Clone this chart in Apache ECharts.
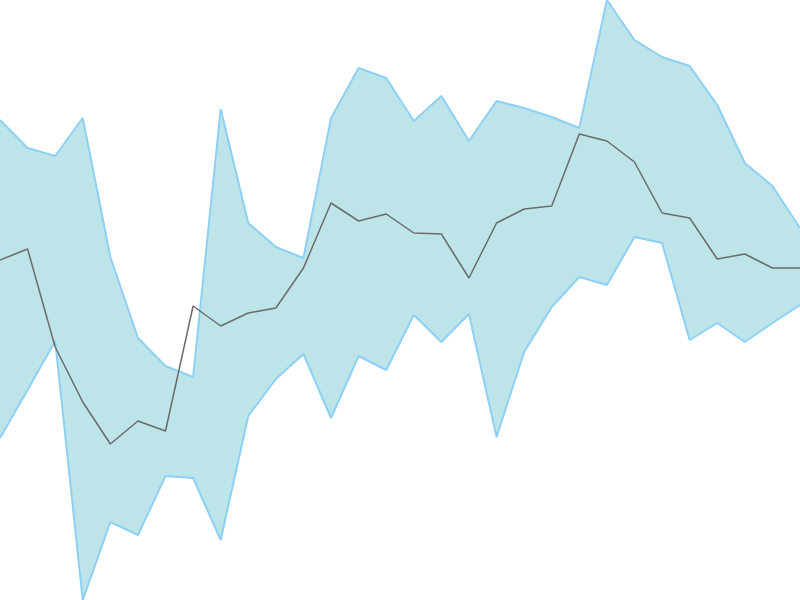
<!DOCTYPE html>
<html>
<head>
<meta charset="utf-8">
<script src="https://cdn.jsdelivr.net/npm/echarts@6/dist/echarts.min.js"></script>
<style>
  html, body { margin: 0; padding: 0; background: #fff; }
  #main { width: 800px; height: 600px; }
</style>
</head>
<body>
<div id="main"></div>
<script>
// 数据
var categories = [];
for (var i = 1; i <= 30; i++) categories.push('P' + i);

var upper = [48.0, 45.2, 44.4, 48.2, 34.3, 26.2, 23.4, 22.3, 49.1, 37.7,
             35.3, 34.2, 48.2, 53.2, 52.2, 47.9, 50.4, 45.9, 49.9, 49.2,
             48.3, 47.2, 60.0, 56.0, 54.3, 53.4, 49.5, 43.7, 41.4, 37.2];
var lower = [16.2, 21.0, 25.9, 0.0, 7.8, 6.5, 12.4, 12.2, 6.0, 18.4,
             22.1, 24.6, 18.2, 24.4, 23.0, 28.5, 25.8, 28.6, 16.3, 24.8,
             29.3, 32.3, 31.5, 36.3, 35.7, 26.0, 27.7, 25.8, 27.7, 29.5];
var middle = [34.0, 35.1, 25.3, 19.8, 15.6, 17.9, 16.9, 29.4, 27.4, 28.7,
              29.2, 33.2, 39.7, 37.9, 38.6, 36.7, 36.6, 32.2, 37.7, 39.1,
              39.4, 46.6, 45.9, 43.8, 38.7, 38.2, 34.1, 34.6, 33.2, 33.2];

// 上下界之差，用于堆叠填充
var spread = upper.map(function (v, i) { return +(v - lower[i]).toFixed(2); });

var chart = echarts.init(document.getElementById('main'));
var option = {
  backgroundColor: '#ffffff',
  animation: false,
  grid: { left: 0, right: 0, top: 0, bottom: 0 },
  xAxis: {
    type: 'category',
    data: categories,
    boundaryGap: false,
    show: false
  },
  yAxis: {
    type: 'value',
    min: 0,
    max: 60,
    show: false
  },
  series: [{
    name: 'lower',
    type: 'line',
    data: lower,
    stack: 'band',
    symbol: 'none',
    z: 3,
    lineStyle: { color: '#8ed0f4', width: 2 }
  }, {
    name: 'upper',
    type: 'line',
    data: spread,
    stack: 'band',
    symbol: 'none',
    z: 2,
    lineStyle: { color: '#8ed0f4', width: 2 },
    areaStyle: { color: '#bde4e9', opacity: 1 }
  }, {
    name: 'middle',
    type: 'line',
    data: middle,
    symbol: 'none',
    z: 4,
    lineStyle: { color: '#6b6b6b', width: 1.5 }
  }]
};
chart.setOption(option);
</script>
</body>
</html>
